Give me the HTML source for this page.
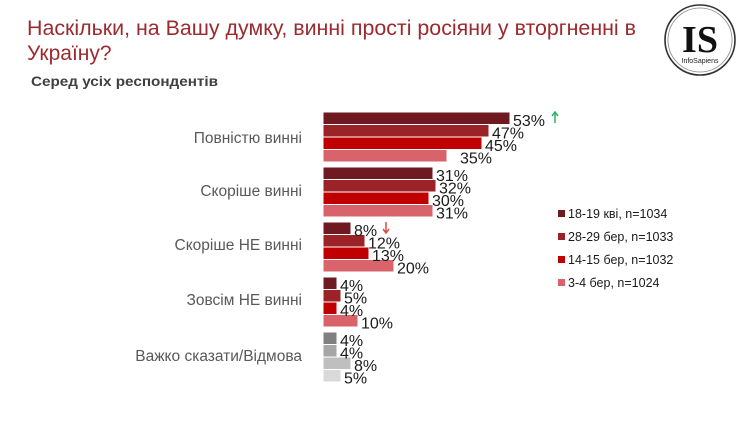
<!DOCTYPE html>
<html><head><meta charset="utf-8"><style>
html,body{margin:0;padding:0;background:#fff;}
svg{display:block;font-family:"Liberation Sans","DejaVu Sans",sans-serif;}
</style></head><body>
<svg width="755" height="422" viewBox="0 0 755 422" xmlns="http://www.w3.org/2000/svg">
<text x="27" y="35" font-size="21" fill="#9b2a2f" textLength="609" lengthAdjust="spacingAndGlyphs">Наскільки, на Вашу думку, винні прості росіяни у вторгненні в</text>
<text x="27" y="60" font-size="21" fill="#9b2a2f">Україну?</text>
<text x="31" y="86" font-size="14" font-weight="bold" fill="#404040" textLength="187" lengthAdjust="spacingAndGlyphs">Серед усіх респондентів</text>
<g>
<circle cx="700" cy="40" r="35" fill="none" stroke="#333" stroke-width="1.6"/>
<circle cx="700" cy="40" r="32" fill="none" stroke="#888" stroke-width="0.8"/>
<text x="700" y="52" font-family="Liberation Serif,serif" font-size="38" font-weight="bold" text-anchor="middle" fill="#111">IS</text>
<text x="700" y="63" font-size="7" text-anchor="middle" fill="#222">InfoSapiens</text>
</g>
<g font-size="15.5" fill="#595959" text-anchor="end">
<text x="302" y="143">Повністю винні</text>
<text x="302" y="196">Скоріше винні</text>
<text x="302" y="250">Скоріше НЕ винні</text>
<text x="302" y="305">Зовсім НЕ винні</text>
<text x="302" y="361">Важко сказати/Відмова</text>
</g>
<g stroke="#fff" stroke-width="1">
<rect x="323" y="112" width="187" height="12.5" fill="#6e1a20"/>
<rect x="323" y="124.5" width="166" height="12.5" fill="#9b2226"/>
<rect x="323" y="137" width="159" height="12.5" fill="#c00000"/>
<rect x="323" y="149.5" width="124" height="12.5" fill="#d9636b"/>
<rect x="323" y="167" width="110" height="12.5" fill="#6e1a20"/>
<rect x="323" y="179.5" width="113" height="12.5" fill="#9b2226"/>
<rect x="323" y="192" width="106" height="12.5" fill="#c00000"/>
<rect x="323" y="204.5" width="110" height="12.5" fill="#d9636b"/>
<rect x="323" y="222" width="28" height="12.5" fill="#6e1a20"/>
<rect x="323" y="234.5" width="42" height="12.5" fill="#9b2226"/>
<rect x="323" y="247" width="46" height="12.5" fill="#c00000"/>
<rect x="323" y="259.5" width="71" height="12.5" fill="#d9636b"/>
<rect x="323" y="277" width="14" height="12.5" fill="#6e1a20"/>
<rect x="323" y="289.5" width="18" height="12.5" fill="#9b2226"/>
<rect x="323" y="302" width="14" height="12.5" fill="#c00000"/>
<rect x="323" y="314.5" width="35" height="12.5" fill="#d9636b"/>
<rect x="323" y="332" width="14" height="12.5" fill="#808080"/>
<rect x="323" y="344.5" width="14" height="12.5" fill="#a6a6a6"/>
<rect x="323" y="357" width="28" height="12.5" fill="#bfbfbf"/>
<rect x="323" y="369.5" width="18" height="12.5" fill="#d9d9d9"/>
</g>
<g font-size="16" fill="#1a1a1a">
<text x="513" y="126">53%</text>
<text x="492" y="138.5">47%</text>
<text x="485" y="151">45%</text>
<text x="460" y="163.5">35%</text>
<text x="436" y="181">31%</text>
<text x="439" y="193.5">32%</text>
<text x="432" y="206">30%</text>
<text x="436" y="218.5">31%</text>
<text x="354" y="236">8%</text>
<text x="368" y="248.5">12%</text>
<text x="372" y="261">13%</text>
<text x="397" y="273.5">20%</text>
<text x="340" y="291">4%</text>
<text x="344" y="303.5">5%</text>
<text x="340" y="316">4%</text>
<text x="361" y="328.5">10%</text>
<text x="340" y="346">4%</text>
<text x="340" y="358.5">4%</text>
<text x="354" y="371">8%</text>
<text x="344" y="383.5">5%</text>
</g>
<g stroke-width="1.5">
<line x1="555" y1="113" x2="555" y2="123" stroke="#2bb15a"/>
<path d="M552,116 L555,112 L558,116" fill="none" stroke="#2bb15a"/>
<line x1="386" y1="222" x2="386" y2="232" stroke="#e04a3a"/>
<path d="M383,229 L386,233 L389,229" fill="none" stroke="#e04a3a"/>
</g>
<g font-size="12.5" fill="#1a1a1a">
<rect x="558" y="210" width="7" height="7" fill="#6e1a20"/><text x="568" y="218">18-19 кві, n=1034</text>
<rect x="558" y="233" width="7" height="7" fill="#9b2226"/><text x="568" y="241">28-29 бер, n=1033</text>
<rect x="558" y="256" width="7" height="7" fill="#c00000"/><text x="568" y="264">14-15 бер, n=1032</text>
<rect x="558" y="279" width="7" height="7" fill="#d9636b"/><text x="568" y="287">3-4 бер, n=1024</text>
</g>
</svg>
</body></html>
